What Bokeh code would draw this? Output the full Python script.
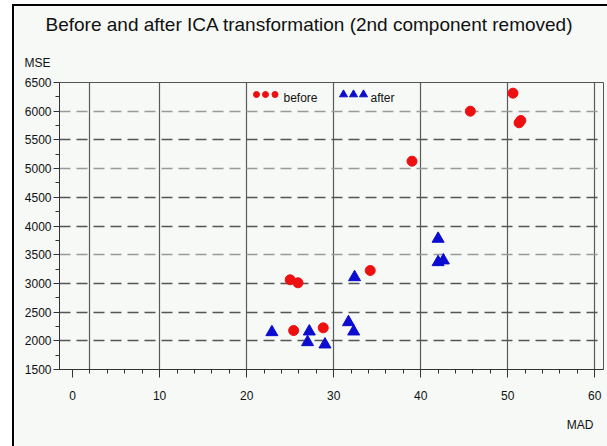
from bokeh.plotting import figure
from bokeh.models import FixedTicker, Grid, Title
from bokeh.embed import file_html
from bokeh.resources import INLINE
from bokeh.core.properties import value

# ---- data ----
before_mad = [50.6, 45.7, 51.5, 51.3, 39.0, 25.0, 25.9, 34.2, 25.4, 28.8]
before_mse = [6314, 6000, 5838, 5798, 5129, 3063, 3010, 3225, 2179, 2226]
after_mad = [22.9, 27.2, 27.0, 29.0, 31.7, 32.3, 32.4, 42.0, 42.0, 42.6]
after_mse = [2150, 2162, 1976, 1936, 2324, 2162, 3108, 3777, 3370, 3400]

x_ticks = [0, 10, 20, 30, 40, 50, 60]
x_minor = [0, 2, 4, 6, 8, 10, 12, 14, 16, 18, 20, 22, 24, 26, 28, 30,
           32, 34, 36, 38, 40, 42, 44, 46, 48, 50, 52, 54, 56, 58, 60]
x_gridlines = [2, 10, 20, 30, 40, 50, 60]
y_ticks = [1500, 2000, 2500, 3000, 3500, 4000, 4500, 5000, 5500, 6000, 6500]
y_minor = [1750, 2250, 2750, 3250, 3750, 4250, 4750, 5250, 5750, 6250]
y_grid_dark = [2000, 2500, 3000, 4000, 4500, 5500, 6500]
y_grid_light = [3500, 5000, 6000]

title_text = "Before and after ICA transformation (2nd component removed)"
x_label = "MAD"
y_label = "MSE"
legend_labels = ["before", "after"]

# ---- styling ----
RED = "#ee1010"
BLUE = "#0c0cd0"
BG = "#f6f9f6"
FONT = "Liberation Sans"
X_RANGE = (-1.5, 61.0)
Y_RANGE = (1500, 6500)
FRAME_W, FRAME_H = 544, 287
FRAME_LEFT_PX, FRAME_TOP_PX = 59, 82   # page pixels


def px2x(px):
    return X_RANGE[0] + (px - FRAME_LEFT_PX) * (X_RANGE[1] - X_RANGE[0]) / FRAME_W


def px2y(py):
    return Y_RANGE[1] - (py - FRAME_TOP_PX) * (Y_RANGE[1] - Y_RANGE[0]) / FRAME_H


p = figure(frame_width=FRAME_W, frame_height=FRAME_H,
           x_range=X_RANGE, y_range=Y_RANGE,
           output_backend="svg", toolbar_location=None, title=title_text,
           min_border_left=45, min_border_right=4,
           min_border_top=76, min_border_bottom=77)
p.styles = {"margin-top": "4px", "margin-left": "12px",
            "border-left": "2px solid #000", "border-top": "2px solid #000"}

p.title.text_font = FONT
p.title.text_font_size = "19px"
p.title.text_font_style = "normal"
p.title.text_color = "#111111"
p.title.align = "left"
p.title.vertical_align = "top"
p.title.offset = -14
p.title.standoff = 9

# axis names as extra titles (annotations outside the frame get clipped)
p.add_layout(Title(text=y_label, align="left", offset=-35, standoff=25,
                   text_font=FONT, text_font_size="12px",
                   text_font_style="normal", text_color="#111111"), "above")
p.add_layout(Title(text=x_label, align="right", offset=10, standoff=26,
                   text_font=FONT, text_font_size="12px",
                   text_font_style="normal", text_color="#111111"), "below")

p.background_fill_color = BG
p.border_fill_color = BG
p.outline_line_color = "#555555"
p.outline_line_width = 1

# axes
for ax in (p.xaxis[0], p.yaxis[0]):
    ax.axis_line_color = "#333333"
    ax.major_tick_line_color = "#333333"
    ax.minor_tick_line_color = "#333333"
    ax.major_tick_in = 0
    ax.minor_tick_in = 0
    ax.major_label_text_font = FONT
    ax.major_label_text_font_size = "12px"
    ax.major_label_text_color = "#111111"

p.xaxis[0].ticker = FixedTicker(ticks=x_ticks, minor_ticks=x_minor)
p.xaxis[0].major_tick_out = 8
p.xaxis[0].minor_tick_out = 4
p.xaxis[0].major_label_standoff = 13

p.yaxis[0].ticker = FixedTicker(ticks=y_ticks, minor_ticks=y_minor)
p.yaxis[0].major_tick_out = 6
p.yaxis[0].minor_tick_out = 4
p.yaxis[0].major_label_standoff = 2

# grids
p.xgrid.ticker = FixedTicker(ticks=x_gridlines)
p.xgrid.grid_line_color = "#5a5a5a"
p.xgrid.grid_line_width = 1.2

p.ygrid.ticker = FixedTicker(ticks=y_grid_dark)
p.ygrid.grid_line_color = "#555555"
p.ygrid.grid_line_width = 1.3
p.ygrid.grid_line_dash = "11 6"

g2 = Grid(dimension=1, ticker=FixedTicker(ticks=y_grid_light),
          grid_line_color="#9a9a9a", grid_line_width=1.3, grid_line_dash="11 6")
p.add_layout(g2)

# data points
p.scatter(before_mad, before_mse, marker="circle", size=10,
          fill_color=RED, line_color=RED)
p.scatter(after_mad, after_mse, marker="triangle", size=12,
          fill_color=BLUE, line_color=BLUE)

# hand-made legend (three symbols per entry, as in the original)
leg_y = px2y(94)
p.scatter([px2x(256), px2x(265), px2x(274.5)], [leg_y] * 3, marker="circle",
          size=6, fill_color=RED, line_color=RED)
p.scatter([px2x(343), px2x(353), px2x(363)], [leg_y] * 3, marker="triangle",
          size=8, fill_color=BLUE, line_color=BLUE)
p.text([px2x(283), px2x(370)], [px2y(97.5)] * 2, text=legend_labels,
       text_font=value(FONT), text_font_size="12px", text_color="#111111",
       text_align="left", text_baseline="middle")

open("out.html", "w").write(file_html(p, INLINE))
